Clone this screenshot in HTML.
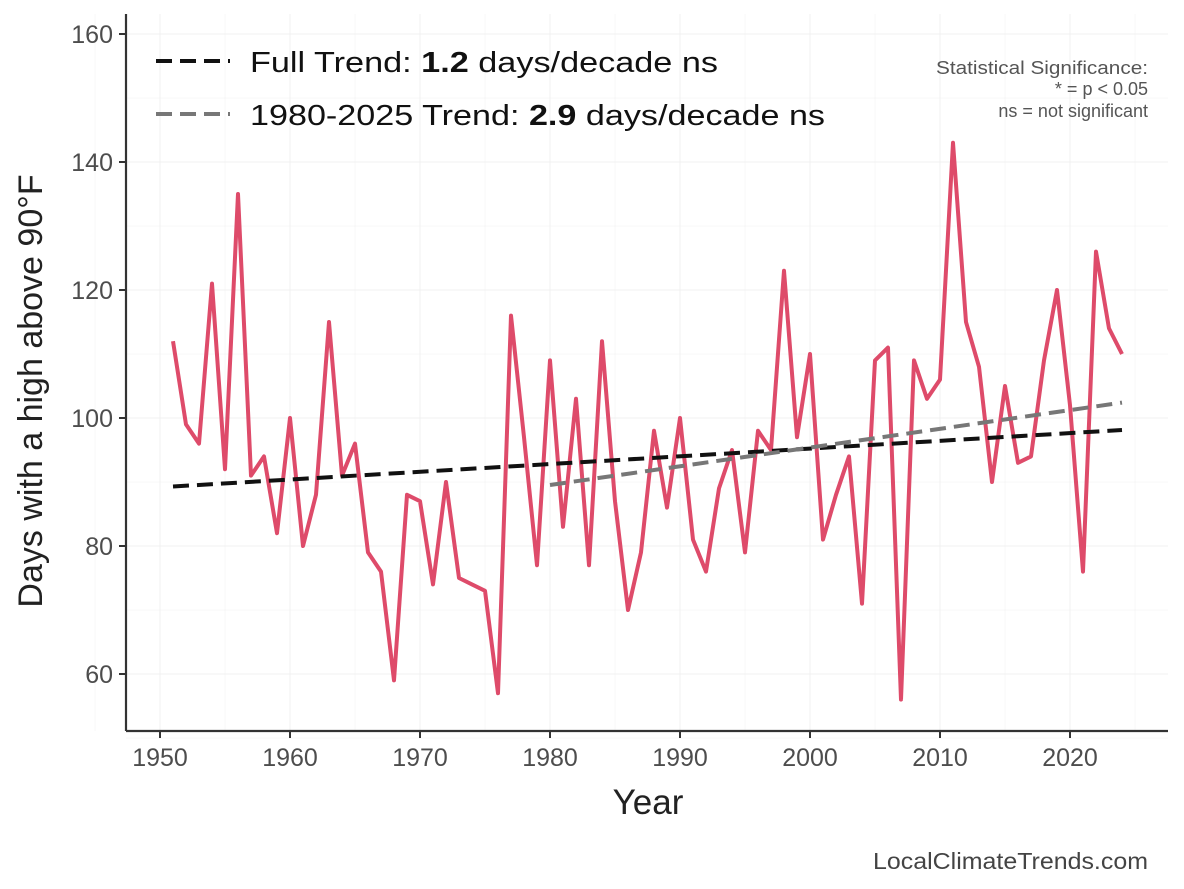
<!DOCTYPE html>
<html><head><meta charset="utf-8"><style>
body{margin:0;background:#fff;}
svg{display:block;font-family:"Liberation Sans",Arial,sans-serif;}
</style></head><body>
<svg id="c" width="1184" height="889" viewBox="0 0 1184 889" xmlns="http://www.w3.org/2000/svg">
<g id="grid" stroke="#f0f0f0" stroke-width="1"></g>
<g id="ticks"></g>
<line x1="126" y1="14" x2="126" y2="731" stroke="#333" stroke-width="2.2"/>
<line x1="126" y1="731" x2="1168" y2="731" stroke="#333" stroke-width="2.2"/>
<polyline id="data" fill="none" stroke="#de4b6a" stroke-width="4" stroke-linejoin="round"/>
<line x1="173" y1="486.5" x2="1122" y2="430" stroke="#111" stroke-width="4" stroke-dasharray="16,8"/>
<line x1="550" y1="485" x2="1122" y2="402.6" stroke="#777" stroke-width="4" stroke-dasharray="16,8"/>
<text x="0" y="0" transform="translate(42 391) rotate(-90)" font-size="34" fill="#222" text-anchor="middle">Days with a high above 90°F</text>
<text x="648" y="814" font-size="35" fill="#222" text-anchor="middle">Year</text>
<line x1="156" y1="61" x2="230" y2="61" stroke="#111" stroke-width="4" stroke-dasharray="16,8"/>
<line x1="156" y1="114" x2="230" y2="114" stroke="#777" stroke-width="4" stroke-dasharray="16,8"/>
<text x="250" y="72" font-size="29" fill="#111" textLength="468" lengthAdjust="spacingAndGlyphs">Full Trend: <tspan font-weight="bold">1.2</tspan> days/decade ns</text>
<text x="250" y="125" font-size="29" fill="#111" textLength="575" lengthAdjust="spacingAndGlyphs">1980-2025 Trend: <tspan font-weight="bold">2.9</tspan> days/decade ns</text>
<text x="1148" y="74" font-size="18" fill="#555" text-anchor="end" textLength="212" lengthAdjust="spacingAndGlyphs">Statistical Significance:</text>
<text x="1148" y="95" font-size="18" fill="#555" text-anchor="end">* = p &lt; 0.05</text>
<text x="1148" y="117" font-size="18" fill="#555" text-anchor="end">ns = not significant</text>
<text x="1148" y="869" font-size="23" fill="#444" text-anchor="end" textLength="275" lengthAdjust="spacingAndGlyphs">LocalClimateTrends.com</text>
</svg>
<script>
var d=[112,99,96,121,92,135,91,94,82,100,80,88,115,91,96,79,76,59,88,87,74,90,75,74,73,57,116,97,77,109,83,103,77,112,87,70,79,98,86,100,81,76,89,95,79,98,95,123,97,110,81,88,94,71,109,111,56,109,103,106,143,115,108,90,105,93,94,109,120,102,76,126,114,110];
function X(y){return 160+(y-1950)*13}function Y(v){return 34+(160-v)*6.4}
document.getElementById('data').setAttribute('points',d.map(function(v,i){return X(1951+i)+','+Y(v)}).join(' '));
var g=document.getElementById('grid'),t=document.getElementById('ticks'),s='',u='';
for(var v=50;v<=160;v+=10){s+='<line x1="126" x2="1168" y1="'+Y(v)+'" y2="'+Y(v)+'" stroke-width="'+(v%20==0?1:0.5)+'"/>';}
for(var y=1945;y<=2025;y+=5){s+='<line y1="14" y2="731" x1="'+X(y)+'" x2="'+X(y)+'" stroke-width="'+(y%10==0?1:0.5)+'"/>';}
for(var v=60;v<=160;v+=20){u+='<line x1="119" x2="126" y1="'+Y(v)+'" y2="'+Y(v)+'" stroke="#333" stroke-width="2"/><text x="113" y="'+(Y(v)+9)+'" font-size="25" fill="#4d4d4d" text-anchor="end">'+v+'</text>';}
for(var y=1950;y<=2020;y+=10){u+='<line y1="731" y2="738" x1="'+X(y)+'" x2="'+X(y)+'" stroke="#333" stroke-width="2"/><text x="'+X(y)+'" y="766" font-size="25" fill="#4d4d4d" text-anchor="middle">'+y+'</text>';}
g.innerHTML=s;t.innerHTML=u;
</script>
</body></html>
